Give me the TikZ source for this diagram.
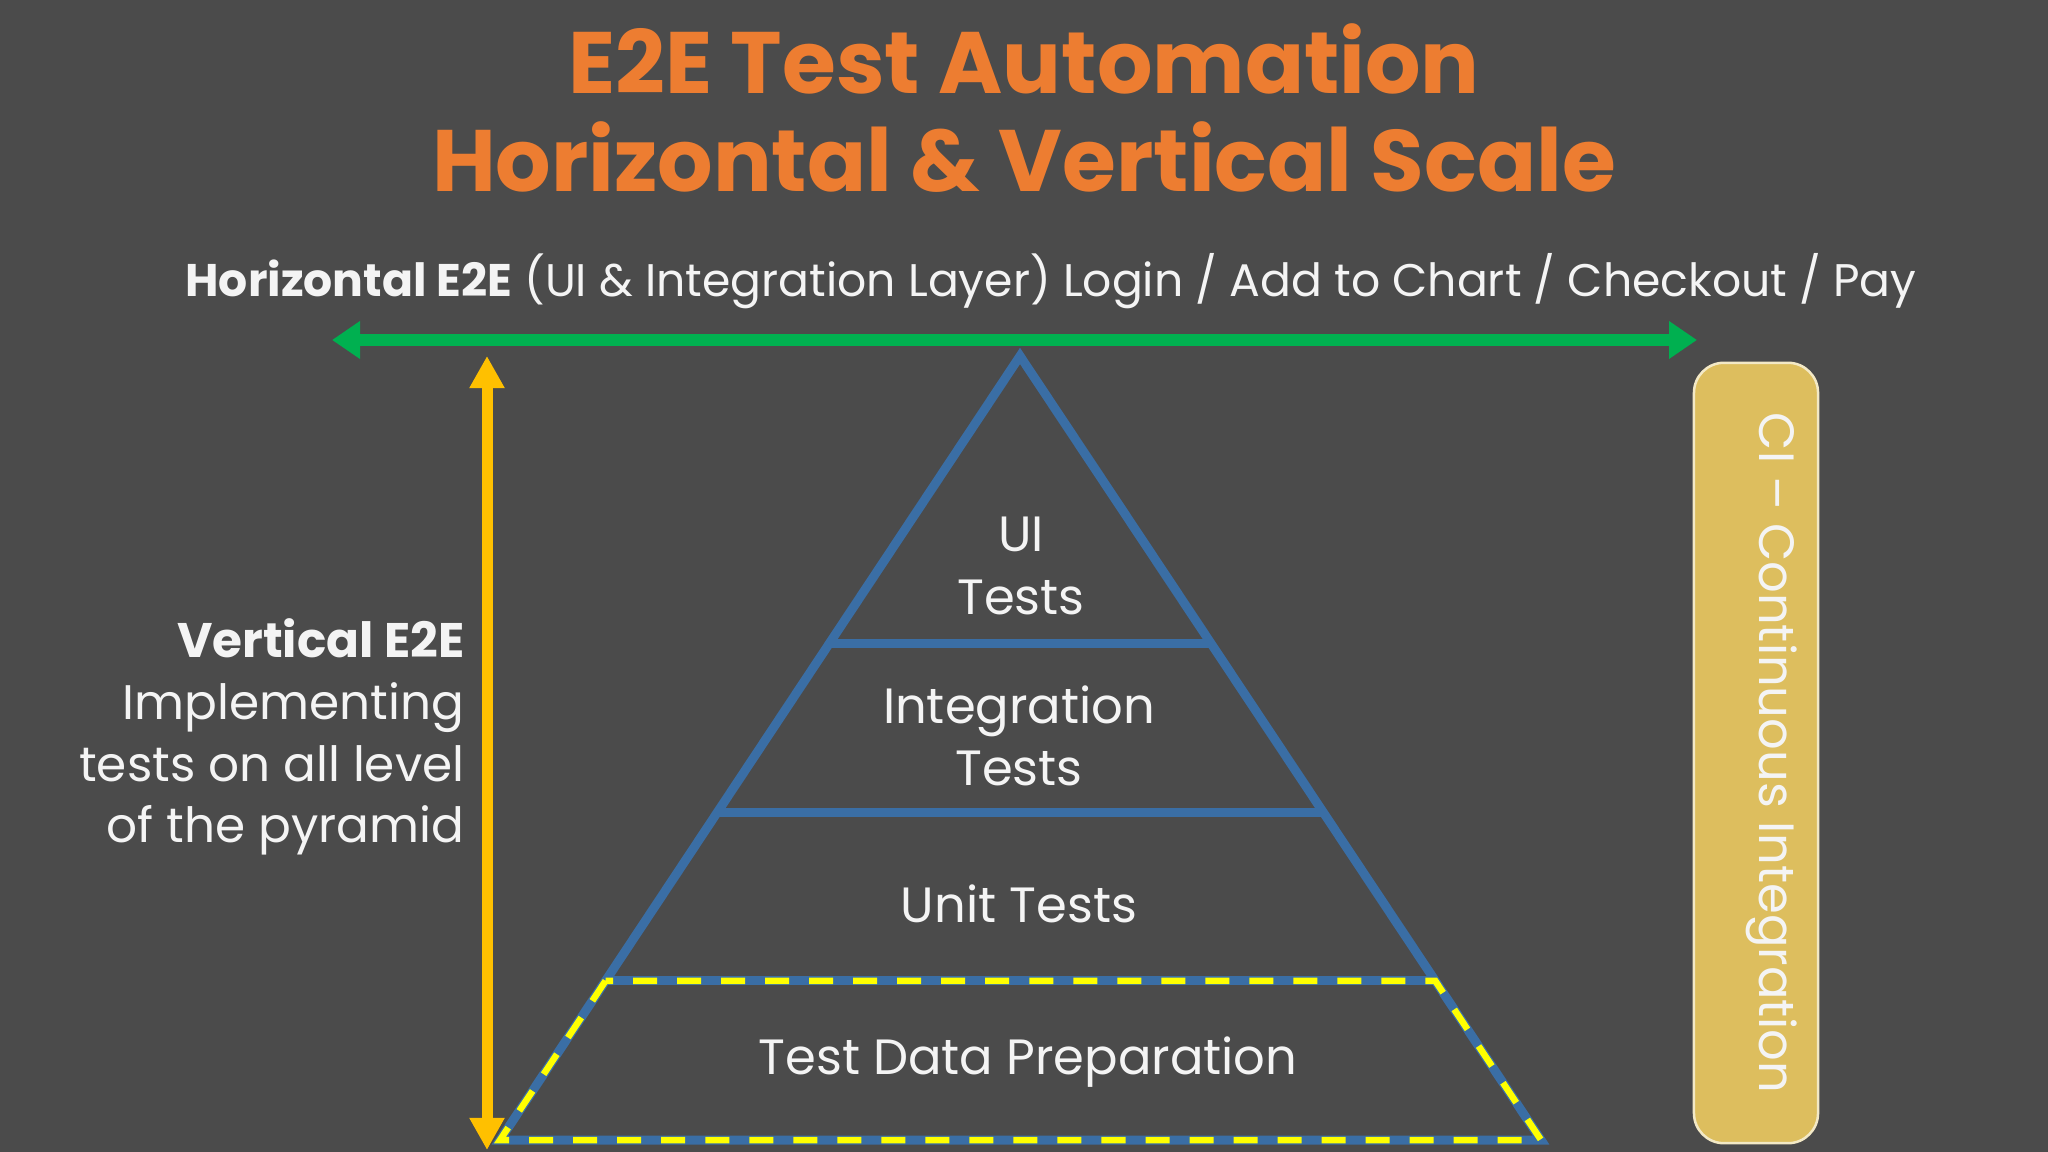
\documentclass[tikz,border=0pt]{standalone}
\usepackage{fontspec}
\setmainfont{Poppins}
\usetikzlibrary{arrows.meta,calc}
\definecolor{fond}{HTML}{4B4B4B}
\definecolor{orange}{HTML}{ED7D31}
\definecolor{vert}{HTML}{00B050}
\definecolor{jaune}{HTML}{FFC000}
\definecolor{citron}{HTML}{FFFF00}
\definecolor{bleu}{HTML}{3A6EA5}
\definecolor{sable}{HTML}{DDBE5E}
\definecolor{creme}{HTML}{F3E9C6}
\definecolor{blanc}{HTML}{F4F4F4}
\tikzset{
  titre/.style={text=orange,font=\fontsize{24.8}{28}\selectfont\bfseries},
  legende/.style={text=blanc,font=\fontsize{13}{16}\selectfont},
  etage/.style={text=blanc,align=center,font=\fontsize{14.1}{17.8}\selectfont},
  pyr/.style={draw=bleu,line width=0.09cm},
  tirets/.style={draw=citron,line width=0.065cm,dash pattern=on 0.24cm off 0.2cm},
  flecheh/.style={draw=vert,line width=0.12cm,{Triangle[length=0.28cm,width=0.36cm]}-{Triangle[length=0.28cm,width=0.36cm]}},
  flechev/.style={draw=jaune,line width=0.11cm,{Triangle[length=0.32cm,width=0.33cm]}-{Triangle[length=0.32cm,width=0.33cm]}},
  cibox/.style={fill=sable,draw=creme,line width=0.025cm,rounded corners=0.3cm,minimum width=1.24cm,minimum height=7.8cm},
}
\begin{document}
\begin{tikzpicture}[x=0.01cm,y=-0.01cm]
\fill[fond] (0,0) rectangle (2048,1152); % fond
\useasboundingbox (0,0) rectangle (2048,1152);
% titre
\node[titre] (t1) at (1024,59) {E2E Test Automation};
\node[titre] (t2) at (1024,157) {Horizontal \& Vertical Scale};
% fleche horizontale
\node[legende] (horiz) at (1051,281) {\textbf{Horizontal E2E} (UI \& Integration Layer) Login / Add to Chart / Checkout / Pay};
\coordinate (hg) at (332,340);
\coordinate (hd) at (1697,340);
\draw[flecheh] (hg) -- (hd);
% fleche verticale
\coordinate (vh) at (487,356);
\coordinate (vb) at (487,1150);
\draw[flechev] (vh) -- (vb);
\node[legende,anchor=east,align=right,inner sep=0pt,font=\fontsize{13.8}{17.6}\selectfont] (vert) at (465,737)
  {\textbf{Vertical E2E}\\Implementing\\tests on all level\\of the pyramid};
% pyramide
\coordinate (s) at (1020,356); % sommet
\coordinate (bg) at (500,1140); % base gauche
\coordinate (bd) at (1541,1140); % base droite
\coordinate (m1g) at ($(s)!0.367!(bg)$);
\coordinate (m1d) at ($(s)!0.367!(bd)$);
\coordinate (m2g) at ($(s)!0.582!(bg)$);
\coordinate (m2d) at ($(s)!0.582!(bd)$);
\coordinate (m3g) at ($(s)!0.797!(bg)$);
\coordinate (m3d) at ($(s)!0.797!(bd)$);
\draw[pyr] (s) -- (bg) -- (bd) -- cycle;
\draw[pyr] (m1g) -- (m1d);
\draw[pyr] (m2g) -- (m2d);
\draw[pyr] (m3g) -- (m3d);
\draw[tirets] (m3g) -- (bg) -- (bd) -- (m3d) -- cycle; % socle
\node[etage] (ui) at (1021,566) {UI\\Tests};
\node[etage] (integ) at (1019,736) {Integration\\Tests};
\node[etage] (unit) at (1019,904) {Unit Tests};
\node[etage] (data) at (1028,1062) {Test Data Preparation};
% integration continue
\node[cibox] (ci) at (1756,753) {};
\node[etage,rotate=-90] (citxt) at (1772,753) {CI -- Continuous Integration};
\end{tikzpicture}
\end{document}
